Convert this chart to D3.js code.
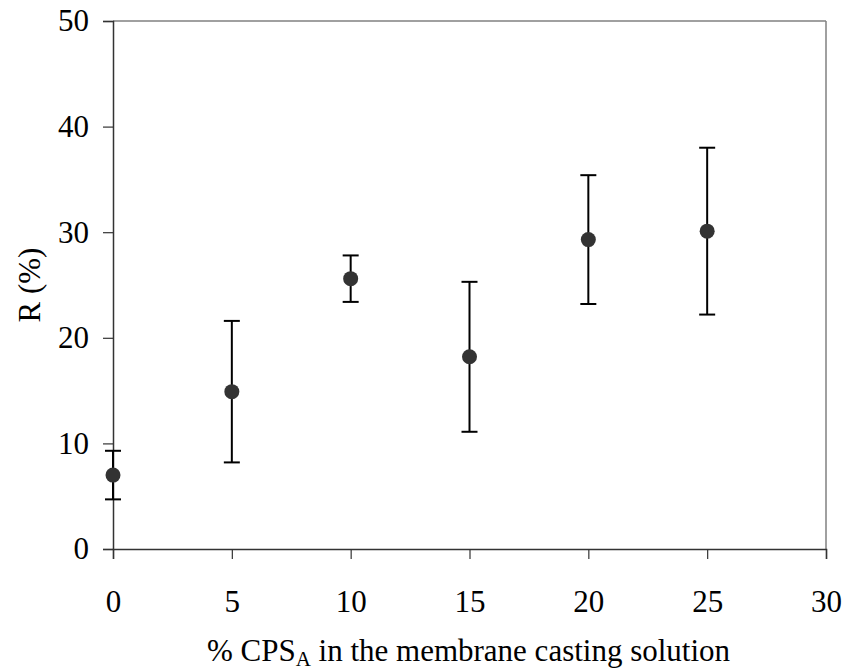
<!DOCTYPE html>
<html>
<head>
<meta charset="utf-8">
<script src="https://cdn.jsdelivr.net/npm/d3@7/dist/d3.min.js"></script>
<style>
  html, body { margin: 0; padding: 0; background: #fff; }
  svg text { font-family: "Liberation Serif", "Times New Roman", serif; fill: #000; }
</style>
</head>
<body>
<svg id="chart" width="846" height="672"></svg>
<script>
// CPS_A content in the casting solution (%)
const cpsContent = [0, 5, 10, 15, 20, 25];
// Mean rejection R (%)
const rejection = [7.0, 14.9, 25.6, 18.2, 29.3, 30.1];
// Error bar half-widths (%)
const rejectionErr = [2.3, 6.7, 2.2, 7.1, 6.1, 7.9];

const xTicks = [0, 5, 10, 15, 20, 25, 30];
const yTicks = [0, 10, 20, 30, 40, 50];

const margin = { top: 21, right: 20, bottom: 123, left: 113 };
const width = 846, height = 672;
const plotW = width - margin.left - margin.right;
const plotH = height - margin.top - margin.bottom;
const fontSize = 31;

const svg = d3.select("#chart");
const g = svg.append("g").attr("transform", `translate(${margin.left},${margin.top})`);

const x = d3.scaleLinear().domain([0, 30]).range([0, plotW]);
const y = d3.scaleLinear().domain([0, 50]).range([plotH, 0]);

// plot frame (top and right in grey)
g.append("line").attr("x1", 0).attr("x2", plotW).attr("y1", 0).attr("y2", 0)
  .attr("stroke", "#808080").attr("stroke-width", 1.5);
g.append("line").attr("x1", plotW).attr("x2", plotW).attr("y1", 0).attr("y2", plotH)
  .attr("stroke", "#808080").attr("stroke-width", 1.5);

// y axis
const yAxis = g.append("g")
  .call(d3.axisLeft(y).tickValues(yTicks).tickSize(10).tickPadding(14).tickFormat(d3.format("d")));
yAxis.select(".domain").attr("stroke", "#333").attr("stroke-width", 1.5);
yAxis.selectAll(".tick line").attr("stroke", "#333").attr("stroke-width", 1.2);
yAxis.selectAll("text").style("font-size", fontSize + "px");

// x axis
const xAxis = g.append("g").attr("transform", `translate(0,${plotH})`)
  .call(d3.axisBottom(x).tickValues(xTicks).tickSize(10).tickPadding(31).tickFormat(d3.format("d")));
xAxis.select(".domain").attr("stroke", "#333").attr("stroke-width", 1.5);
xAxis.selectAll(".tick line").attr("stroke", "#333").attr("stroke-width", 1.2);
xAxis.selectAll("text").style("font-size", fontSize + "px");

// axis titles
const xt = svg.append("text")
  .attr("x", margin.left + plotW / 2 - 1)
  .attr("y", 661)
  .attr("text-anchor", "middle")
  .style("font-size", fontSize + "px");
xt.append("tspan").text("% CPS");
xt.append("tspan").attr("dy", 5).style("font-size", "21px").text("A");
xt.append("tspan").attr("dy", -5).text(" in the membrane casting solution");

svg.append("text")
  .attr("transform", `translate(40,${margin.top + plotH / 2}) rotate(-90)`)
  .attr("text-anchor", "middle")
  .style("font-size", fontSize + "px")
  .text("R (%)");

// error bars
const data = cpsContent.map((c, i) => ({ c, r: rejection[i], e: rejectionErr[i] }));
const capHalf = 8;
const eb = g.append("g").selectAll("g").data(data).join("g");
eb.append("line")
  .attr("x1", d => x(d.c)).attr("x2", d => x(d.c))
  .attr("y1", d => y(d.r + d.e)).attr("y2", d => y(d.r - d.e))
  .attr("stroke", "#000").attr("stroke-width", 2);
eb.append("line")
  .attr("x1", d => x(d.c) - capHalf).attr("x2", d => x(d.c) + capHalf)
  .attr("y1", d => y(d.r + d.e)).attr("y2", d => y(d.r + d.e))
  .attr("stroke", "#000").attr("stroke-width", 2);
eb.append("line")
  .attr("x1", d => x(d.c) - capHalf).attr("x2", d => x(d.c) + capHalf)
  .attr("y1", d => y(d.r - d.e)).attr("y2", d => y(d.r - d.e))
  .attr("stroke", "#000").attr("stroke-width", 2);

// points
g.append("g").selectAll("circle").data(data).join("circle")
  .attr("cx", d => x(d.c)).attr("cy", d => y(d.r))
  .attr("r", 7.5).attr("fill", "#333");
</script>
</body>
</html>
